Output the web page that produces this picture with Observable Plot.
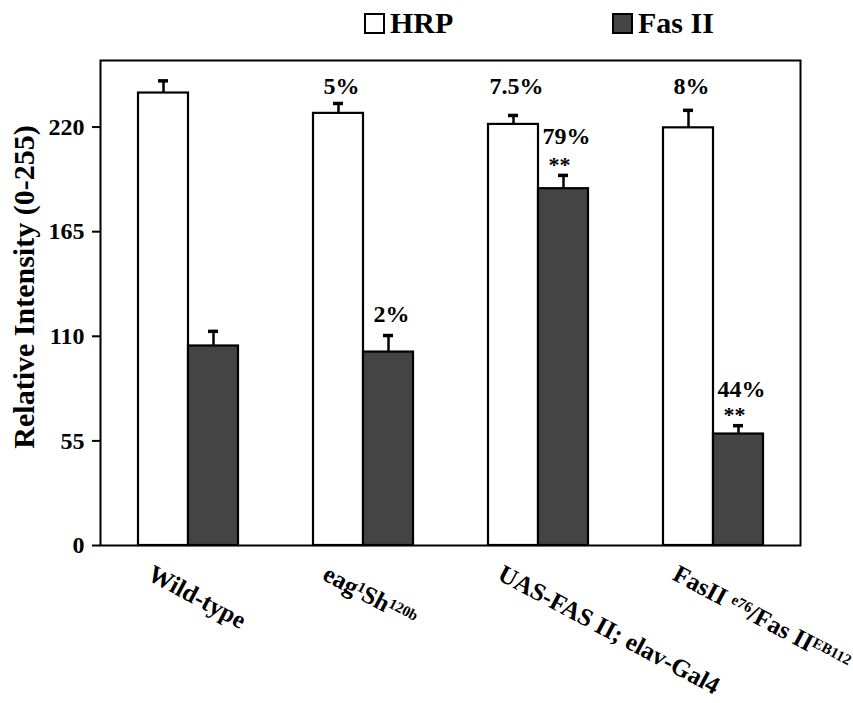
<!DOCTYPE html>
<html>
<head>
<meta charset="utf-8">
<script src="https://cdn.jsdelivr.net/npm/d3@7"></script>
<script src="https://cdn.jsdelivr.net/npm/@observablehq/plot@0.6"></script>
<style>
  body { margin: 0; background: #fff; font-family: "Liberation Serif", "Times New Roman", serif; }
  #legend { position: relative; width: 853px; height: 46px; }
  .item { position: absolute; top: 5px; display: flex; align-items: center; font-weight: bold; font-size: 30px; line-height: 36px; color: #000; }
  .sw { width: 17px; height: 17px; border: 2px solid #000; margin-right: 5px; }
</style>
</head>
<body>
<div id="legend"></div>
<div id="chart"></div>
<script>
// ---- data ----
const groups = ["Wild-type", "eag\u00B9Sh\u00B9\u00B2\u2070\u1D47", "UAS-FAS II; elav-Gal4", "FasII \u1D49\u2077\u2076/Fas II\u1D31\u1D2E\u00B9\u00B9\u00B2"];
const series = ["HRP", "Fas II"];
const seriesColors = ["#ffffff", "#444444"];
const hrpValues = [237.9, 227.2, 221.4, 219.6];
const hrpErrors = [6.4, 5.2, 4.7, 9.2];
const fasValues = [104.9, 101.7, 187.6, 58.6];
const fasErrors = [7.7, 8.7, 7.0, 4.4];
const yTicks = [0, 55, 110, 165, 220];
const yLabel = "Relative Intensity (0-255)";

// annotation labels (text, group index, series, label height in data units)
const annTexts  = ["5%", "7.5%", "8%", "2%", "79%", "44%"];
const annGroup  = [1, 2, 3, 1, 2, 3];
const annSeries = ["HRP", "HRP", "HRP", "Fas II", "Fas II", "Fas II"];
const annY      = [237.4, 237.2, 237.3, 117.6, 211.2, 78.2];
const starGroup = [2, 3];
const starY     = [196.4, 65.1];

// ---- tables built from the arrays ----
const rows = [];
groups.forEach((g, i) => {
  rows.push({group: g, series: "HRP", value: hrpValues[i], error: hrpErrors[i]});
  rows.push({group: g, series: "Fas II", value: fasValues[i], error: fasErrors[i]});
});
const ann = annTexts.map((t, i) => ({group: groups[annGroup[i]], series: annSeries[i], text: t, y: annY[i]}));
const stars = starGroup.map((gi, i) => ({group: groups[gi], series: "Fas II", text: "**", y: starY[i]}));

// ---- legend (HTML, above the svg) ----
const legend = document.getElementById("legend");
const legendLeft = [364, 612];
series.forEach((s, i) => {
  const item = document.createElement("div");
  item.className = "item";
  item.style.left = legendLeft[i] + "px";
  const sw = document.createElement("div");
  sw.className = "sw";
  sw.style.background = seriesColors[i];
  item.appendChild(sw);
  item.appendChild(document.createTextNode(s));
  legend.appendChild(item);
});

// ---- chart ----
const chart = Plot.plot({
  width: 853,
  height: 657,
  marginTop: 14,
  marginBottom: 158,
  marginLeft: 98,
  marginRight: 52,
  style: {fontFamily: '"Liberation Serif", "Times New Roman", serif', fontWeight: "bold", background: "#fff", color: "#000"},
  fx: {domain: groups, paddingInner: 0, paddingOuter: 0, label: null},
  x: {domain: series, paddingInner: 0, paddingOuter: 0.74, axis: null},
  y: {domain: [0, 255]},
  color: {domain: series, range: seriesColors},
  marks: [
    Plot.axisY({ticks: yTicks, tickSize: 8, tickPadding: 8, fontSize: 24, strokeWidth: 2, label: null}),
    Plot.text([yLabel], {facet: "super", frameAnchor: "left", textAnchor: "middle", lineAnchor: "middle", rotate: -90, dx: -76, dy: -16, fontSize: 30, fontWeight: "bold"}),
    Plot.axisFx({anchor: "bottom", tickSize: 0, tickRotate: 28, fontSize: 25, dx: -38, dy: 14, label: null}),
    Plot.barY(rows, {fx: "group", x: "series", y: "value", fill: "series", stroke: "#000", strokeWidth: 2.2}),
    Plot.ruleX(rows, {fx: "group", x: "series", y1: "value", y2: d => d.value + d.error, stroke: "#000", strokeWidth: 2.5}),
    Plot.tickY(rows, {fx: "group", x: "series", y: d => d.value + d.error, insetLeft: 20, insetRight: 20, stroke: "#000", strokeWidth: 3.5}),
    Plot.text(ann, {fx: "group", x: "series", y: "y", text: "text", fontSize: 24, fontWeight: "bold", lineAnchor: "bottom", dx: 3}),
    Plot.text(stars, {fx: "group", x: "series", y: "y", text: "text", fontSize: 22, fontWeight: "bold", lineAnchor: "bottom", dx: -4}),
    Plot.frame({facet: "super", stroke: "#000", strokeWidth: 2})
  ]
});
document.getElementById("chart").appendChild(chart);

// render unicode superscripts of the category labels as raised, smaller tspans
const supMap = {"\u00B9": "1", "\u00B2": "2", "\u2070": "0", "\u1D47": "b", "\u1D49": "e",
                "\u2077": "7", "\u2076": "6", "\u1D31": "E", "\u1D2E": "B"};
d3.select(chart).selectAll('g[aria-label="fx-axis tick label"] text').each(function () {
  const full = this.textContent;
  const runs = [];
  for (const ch of full) {
    const sup = ch in supMap;
    const c = sup ? supMap[ch] : ch;
    if (runs.length && runs[runs.length - 1].sup === sup) runs[runs.length - 1].t += c;
    else runs.push({sup, t: c});
  }
  if (!runs.some(r => r.sup)) return;
  const el = d3.select(this);
  el.text(null);
  let raised = false;
  runs.forEach(r => {
    const ts = el.append("tspan").text(r.t);
    if (r.sup && !raised) { ts.attr("dy", "-0.45em").attr("font-size", "0.6em"); raised = true; }
    else if (r.sup) { ts.attr("font-size", "0.6em"); }
    else if (raised) { ts.attr("dy", "0.27em"); raised = false; }
  });
});
</script>
</body>
</html>
